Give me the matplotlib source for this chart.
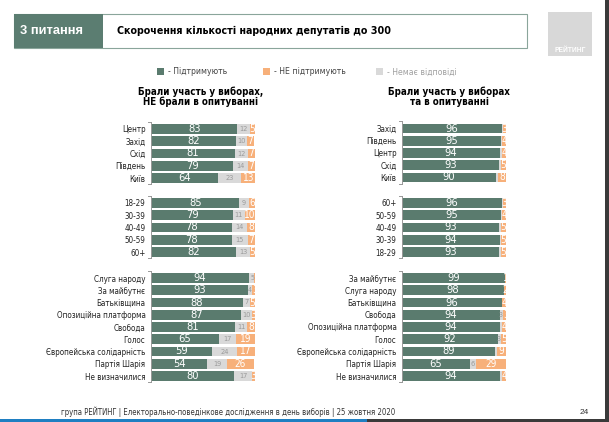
import matplotlib
matplotlib.use("Agg")
import matplotlib.pyplot as plt
from matplotlib.patches import Rectangle
from matplotlib import font_manager
from matplotlib.font_manager import FontProperties

W, H = 609, 422

# ---------------- data ----------------
left_regions = ["Центр", "Захід", "Схід", "Південь", "Київ"]
left_regions_yes = [83, 82, 81, 79, 64]
left_regions_na = [12, 10, 12, 14, 23]
left_regions_no = [5, 7, 7, 7, 13]

left_ages = ["18-29", "30-39", "40-49", "50-59", "60+"]
left_ages_yes = [85, 79, 78, 78, 82]
left_ages_na = [9, 11, 14, 15, 13]
left_ages_no = [6, 10, 8, 7, 5]

left_parties = ["Слуга народу", "За майбутнє", "Батьківщина", "Опозиційна платформа",
                "Свобода", "Голос", "Європейська солідарність", "Партія Шарія", "Не визначилися"]
left_parties_yes = [94, 93, 88, 87, 81, 65, 59, 54, 80]
left_parties_na = [5, 4, 7, 10, 11, 17, 24, 19, 17]
left_parties_no = [2, 3, 5, 3, 8, 19, 17, 26, 3]

right_regions = ["Захід", "Південь", "Центр", "Схід", "Київ"]
right_regions_yes = [96, 95, 94, 93, 90]
right_regions_na = [1, 1, 2, 2, 2]
right_regions_no = [3, 4, 4, 5, 8]

right_ages = ["60+", "50-59", "40-49", "30-39", "18-29"]
right_ages_yes = [96, 95, 93, 94, 93]
right_ages_na = [1, 1, 2, 1, 2]
right_ages_no = [3, 4, 5, 5, 5]

right_parties = ["За майбутнє", "Слуга народу", "Батьківщина", "Свобода", "Опозиційна платформа",
                 "Голос", "Європейська солідарність", "Партія Шарія", "Не визначилися"]
right_parties_yes = [99, 98, 96, 94, 94, 92, 89, 65, 94]
right_parties_na = [0, 0, 0, 3, 2, 3, 2, 6, 2]
right_parties_no = [1, 2, 4, 3, 4, 5, 9, 29, 4]

legend_labels = ["- Підтримують", "- НЕ підтримують", "- Немає відповіді"]
title_left = "Брали участь у виборах,\nНЕ брали в опитуванні"
title_right = "Брали участь у виборах\nта в опитуванні"

# ---------------- style ----------------
GREEN = "#5a7b6e"
ORANGE = "#f7b07a"
GRAY = "#d9d9d9"
GRAY_TXT = "#9a9a9a"

plt.rcParams["font.family"] = ["Liberation Sans", "DejaVu Sans"]


def find_narrow(bold=False):
    cands = []
    for f in font_manager.fontManager.ttflist:
        fn = f.fname.lower()
        if ("narrow" in fn or "condensed" in fn) and "italic" not in fn and "oblique" not in fn:
            isb = "bold" in fn
            if isb == bold:
                score = 0 if "liberation" in fn else (1 if "dejavusans" in fn.replace("-", "") else 2)
                if "light" in fn or "extralight" in fn or "mono" in fn or "serif" in fn:
                    score += 5
                cands.append((score, f.fname))
    if cands:
        cands.sort()
        return cands[0][1]
    return None


nr = find_narrow(False)
nb = find_narrow(True)


def fp(size, bold=False):
    path = nb if bold else nr
    if path is not None:
        return FontProperties(fname=path, size=size)
    return FontProperties(family=["Liberation Sans", "DejaVu Sans"], size=size * 0.9,
                          weight="bold" if bold else "normal")


fig = plt.figure(figsize=(W / 100, H / 100), dpi=100)
fig.patch.set_facecolor("white")


def fx(x):
    return x / W


def fy(y):
    return 1 - y / H


def rect_px(x0, y0, x1, y1, **kw):
    fig.patches.append(Rectangle((fx(x0), fy(y1)), (x1 - x0) / W, (y1 - y0) / H,
                                 transform=fig.transFigure, **kw))


# header
rect_px(14, 14, 527, 48, facecolor="white", edgecolor="#8aa59b", linewidth=0.8)
rect_px(14, 14, 103, 48, facecolor="#5b7d71", edgecolor="none")
fig.text(fx(20), fy(31), "3 питання", color="white", fontsize=9.3, fontweight="bold",
         va="center", ha="left")
fig.text(fx(117), fy(31), "Скорочення кількості народних депутатів до 300", color="black",
         fontproperties=fp(7.7, True), va="center", ha="left")
# logo
rect_px(548, 12, 592, 56, facecolor="#d8d8d8", edgecolor="none")
fig.text(fx(570), fy(50), "РЕЙТИНГ", color="white", fontsize=4.8, fontweight="bold",
         ha="center", va="center")

# right and bottom frame
rect_px(605, 0, 609, 422, facecolor="#3a3a3a", edgecolor="none")
rect_px(0, 419, 609, 422, facecolor="#3a3a3a", edgecolor="none")
rect_px(0, 419, 367, 422, facecolor="#1f7fc2", edgecolor="none")

# legend
leg_items = [(157, GREEN, legend_labels[0], "#444444"),
             (263, ORANGE, legend_labels[1], "#444444"),
             (376, GRAY, legend_labels[2], "#a0a0a0")]
for x, c, lab, tc in leg_items:
    rect_px(x, 68, x + 6.5, 75, facecolor=c, edgecolor="none")
    fig.text(fx(x + 11), fy(72), lab, color=tc, fontproperties=fp(6.2), va="center", ha="left")

# panel titles
fig.text(fx(201), fy(97), title_left, ha="center", va="center", fontproperties=fp(7.0, True),
         linespacing=0.95)
fig.text(fx(449), fy(97), title_right, ha="center", va="center", fontproperties=fp(7.0, True),
         linespacing=0.95)

# footer
fig.text(fx(61), fy(412), "група РЕЙТИНГ | Електорально-поведінкове дослідження в день виборів | 25 жовтня 2020",
         fontproperties=fp(5.6), color="#333333", ha="left", va="center")
fig.text(fx(584), fy(413), "24", fontsize=6, color="#333333", ha="center", va="center")

STEP = 12.25  # px per row
PX100 = 104   # px for 100%


def panel(x0, ytop_center, cats, yes, na, no, hide_small_gray):
    n = len(cats)
    top = ytop_center - 0.6 * STEP
    height = (n + 0.1) * STEP
    ax = fig.add_axes([fx(x0), fy(top + height), PX100 / W, height / H])
    ax.set_xlim(0, 100)
    ax.set_ylim(n - 0.5, -0.6)
    ys = list(range(n))
    ax.barh(ys, yes, height=0.78, color=GREEN, edgecolor="none")
    ax.barh(ys, na, left=yes, height=0.78, color=GRAY, edgecolor="none")
    lefts = [a + b for a, b in zip(yes, na)]
    ax.barh(ys, no, left=lefts, height=0.78, color=ORANGE, edgecolor="none")
    for i in ys:
        ax.text(yes[i] / 2, i, str(yes[i]), color="white", fontproperties=fp(8.0),
                ha="center", va="center")
        show_gray = na[i] > 0 and not (hide_small_gray and na[i] < 3)
        narrow_pair = show_gray and no[i] > 0 and (na[i] + no[i]) < 10
        if show_gray:
            if narrow_pair:
                ax.text(lefts[i], i, str(na[i]), color=GRAY_TXT, fontproperties=fp(5.0),
                        ha="right", va="center")
            else:
                ax.text(yes[i] + na[i] / 2, i, str(na[i]), color=GRAY_TXT, fontproperties=fp(5.3),
                        ha="center", va="center")
        if no[i] > 0:
            if narrow_pair:
                ax.text(lefts[i] + 0.3, i, str(no[i]), color="white", fontproperties=fp(7.2),
                        ha="left", va="center")
            else:
                ax.text(lefts[i] + no[i] / 2, i, str(no[i]), color="white", fontproperties=fp(7.2),
                        ha="center", va="center")
    ax.set_yticks(ys)
    ax.set_yticklabels(cats)
    for lab in ax.get_yticklabels():
        lab.set_fontproperties(fp(5.8))
        lab.set_color("#222222")
    ax.tick_params(axis="y", length=0, pad=4)
    ax.set_xticks([])
    for s in ["top", "right", "bottom"]:
        ax.spines[s].set_visible(False)
    ax.spines["left"].set_color("#999999")
    ax.spines["left"].set_linewidth(0.7)
    ax.patch.set_alpha(0)
    for yy in (-0.6, n - 0.5):
        ax.plot([-2.5, 0], [yy, yy], color="#999999", lw=0.7, clip_on=False)
    return ax


panel(151, 129, left_regions, left_regions_yes, left_regions_na, left_regions_no, False)
panel(151, 203, left_ages, left_ages_yes, left_ages_na, left_ages_no, False)
panel(151, 278, left_parties, left_parties_yes, left_parties_na, left_parties_no, False)
panel(402, 128.5, right_regions, right_regions_yes, right_regions_na, right_regions_no, True)
panel(402, 203, right_ages, right_ages_yes, right_ages_na, right_ages_no, True)
panel(402, 278, right_parties, right_parties_yes, right_parties_na, right_parties_no, True)

fig.savefig("out.png", dpi=100, facecolor="white")
